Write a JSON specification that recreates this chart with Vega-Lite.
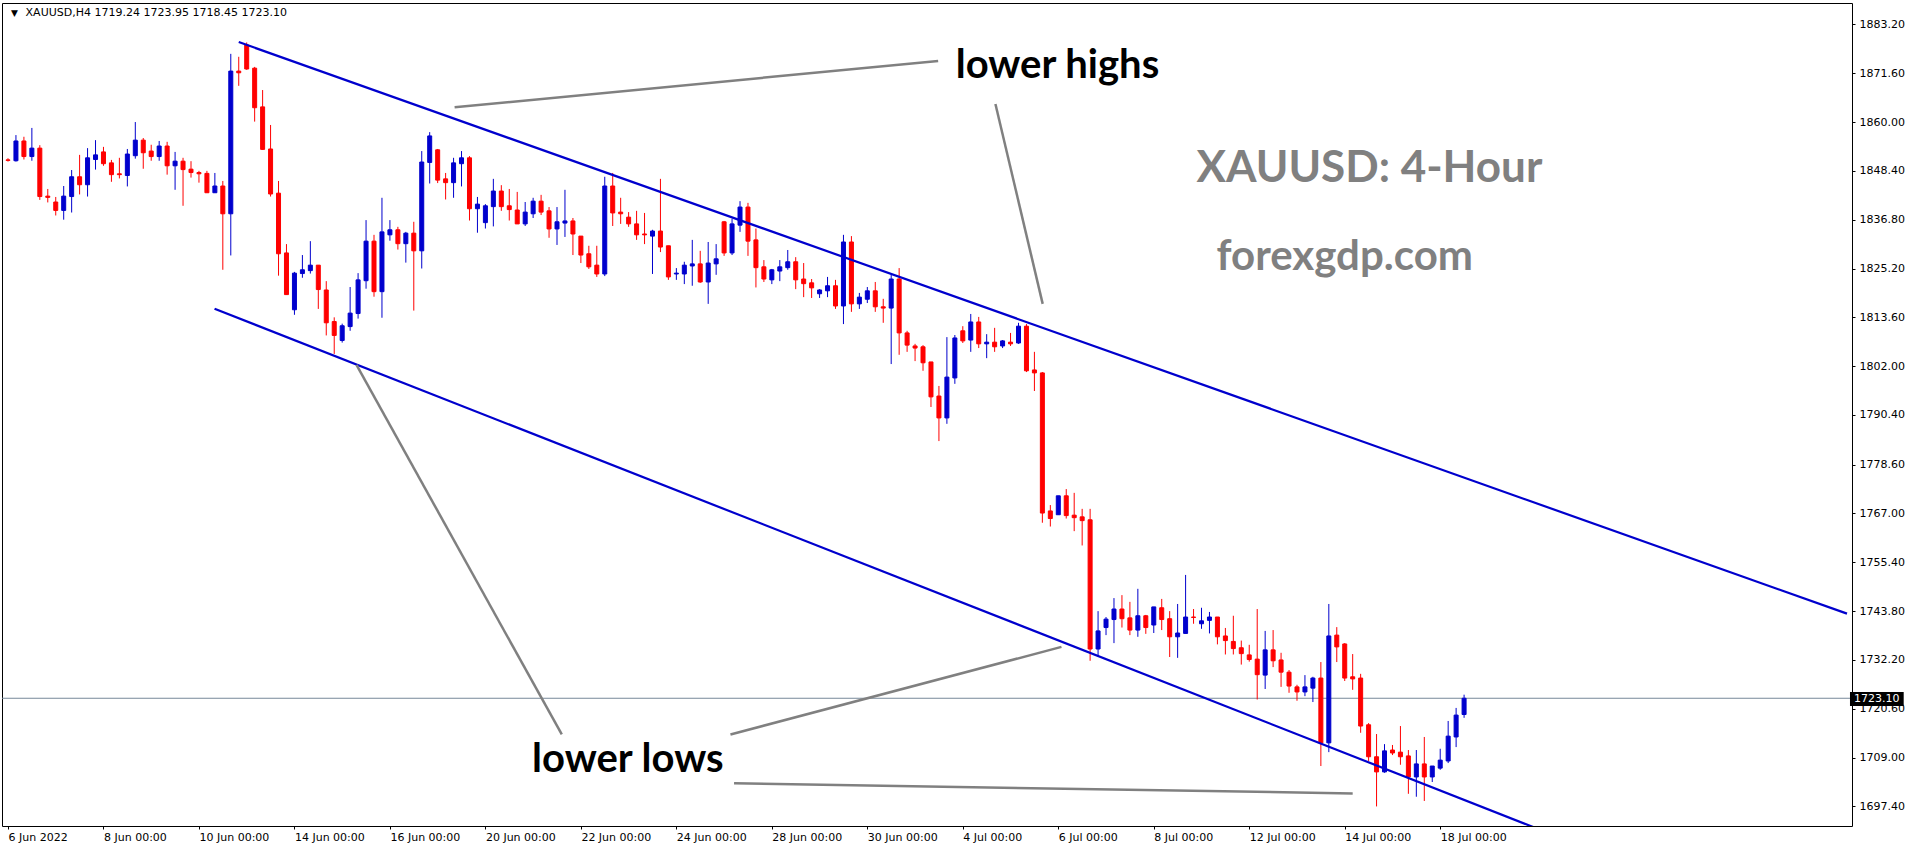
{
  "$schema": "https://vega.github.io/schema/vega-lite/v6.json",
  "width": 1850,
  "height": 823,
  "autosize": {"type": "none"},
  "padding": {"left": 2, "top": 3, "right": 64, "bottom": 24},
  "background": "white",
  "config": {
    "view": {"stroke": "black", "strokeWidth": 1},
    "axis": {"grid": false, "domain": false, "tickColor": "black", "tickSize": 3, "labelFont": "DejaVu Sans", "labelFontSize": 11, "labelColor": "black"}
  },
  "datasets": {
    "candles": [
      {"i":0,"o":1851.0,"h":1851.4,"l":1850.6,"c":1850.9},
      {"i":1,"o":1850.8,"h":1856.9,"l":1850.6,"c":1855.5},
      {"i":2,"o":1855.5,"h":1856.5,"l":1851.1,"c":1851.8},
      {"i":3,"o":1851.8,"h":1858.6,"l":1850.8,"c":1853.8},
      {"i":4,"o":1853.8,"h":1854.5,"l":1841.5,"c":1842.3},
      {"i":5,"o":1842.4,"h":1844.1,"l":1840.9,"c":1842.1},
      {"i":6,"o":1841.0,"h":1842.2,"l":1837.8,"c":1839.0},
      {"i":7,"o":1839.0,"h":1844.8,"l":1836.8,"c":1842.4},
      {"i":8,"o":1842.3,"h":1848.6,"l":1838.5,"c":1847.0},
      {"i":9,"o":1847.0,"h":1852.2,"l":1842.8,"c":1845.1},
      {"i":10,"o":1845.1,"h":1853.8,"l":1842.3,"c":1851.5},
      {"i":11,"o":1851.1,"h":1855.7,"l":1848.7,"c":1852.2},
      {"i":12,"o":1852.9,"h":1854.1,"l":1849.6,"c":1850.1},
      {"i":13,"o":1850.3,"h":1851.0,"l":1845.8,"c":1847.5},
      {"i":14,"o":1847.7,"h":1851.5,"l":1846.6,"c":1847.5},
      {"i":15,"o":1847.3,"h":1853.6,"l":1844.7,"c":1852.4},
      {"i":16,"o":1852.0,"h":1860.0,"l":1851.3,"c":1855.7},
      {"i":17,"o":1855.7,"h":1856.2,"l":1848.9,"c":1852.7},
      {"i":18,"o":1853.1,"h":1854.6,"l":1850.8,"c":1851.8},
      {"i":19,"o":1851.8,"h":1855.5,"l":1850.8,"c":1854.3},
      {"i":20,"o":1854.3,"h":1855.3,"l":1847.5,"c":1849.6},
      {"i":21,"o":1849.6,"h":1852.9,"l":1843.9,"c":1850.7},
      {"i":22,"o":1850.7,"h":1851.5,"l":1840.1,"c":1848.7},
      {"i":23,"o":1848.8,"h":1850.7,"l":1846.8,"c":1848.0},
      {"i":24,"o":1848.0,"h":1848.4,"l":1845.6,"c":1847.7},
      {"i":25,"o":1847.8,"h":1848.4,"l":1843.2,"c":1843.2},
      {"i":26,"o":1843.2,"h":1847.9,"l":1843.2,"c":1844.8},
      {"i":27,"o":1844.8,"h":1846.0,"l":1824.9,"c":1838.2},
      {"i":28,"o":1838.2,"h":1876.2,"l":1828.3,"c":1872.1},
      {"i":29,"o":1872.1,"h":1875.5,"l":1868.6,"c":1871.7},
      {"i":30,"o":1878.3,"h":1878.9,"l":1872.4,"c":1872.6},
      {"i":31,"o":1872.8,"h":1873.1,"l":1860.1,"c":1863.4},
      {"i":32,"o":1863.6,"h":1867.6,"l":1853.4,"c":1853.5},
      {"i":33,"o":1853.6,"h":1859.3,"l":1842.3,"c":1842.9},
      {"i":34,"o":1843.1,"h":1846.0,"l":1823.5,"c":1828.7},
      {"i":35,"o":1828.9,"h":1831.0,"l":1819.0,"c":1819.0},
      {"i":36,"o":1815.4,"h":1824.4,"l":1814.2,"c":1824.1},
      {"i":37,"o":1824.0,"h":1828.4,"l":1823.0,"c":1824.9},
      {"i":38,"o":1824.7,"h":1831.7,"l":1824.0,"c":1826.0},
      {"i":39,"o":1826.0,"h":1826.0,"l":1815.6,"c":1820.2},
      {"i":40,"o":1820.1,"h":1822.2,"l":1809.3,"c":1812.3},
      {"i":41,"o":1812.6,"h":1813.6,"l":1804.9,"c":1809.3},
      {"i":42,"o":1808.1,"h":1812.1,"l":1807.6,"c":1811.6},
      {"i":43,"o":1811.4,"h":1820.8,"l":1810.4,"c":1814.6},
      {"i":44,"o":1814.5,"h":1824.1,"l":1813.3,"c":1822.5},
      {"i":45,"o":1822.3,"h":1836.7,"l":1820.4,"c":1831.7},
      {"i":46,"o":1831.7,"h":1833.2,"l":1818.5,"c":1819.7},
      {"i":47,"o":1819.7,"h":1842.0,"l":1813.5,"c":1833.9},
      {"i":48,"o":1833.2,"h":1836.7,"l":1831.8,"c":1834.4},
      {"i":49,"o":1834.4,"h":1835.1,"l":1829.7,"c":1831.1},
      {"i":50,"o":1831.1,"h":1833.9,"l":1826.6,"c":1833.6},
      {"i":51,"o":1833.6,"h":1836.3,"l":1815.2,"c":1829.4},
      {"i":52,"o":1829.4,"h":1853.1,"l":1825.2,"c":1850.5},
      {"i":53,"o":1850.4,"h":1857.6,"l":1845.4,"c":1856.7},
      {"i":54,"o":1853.4,"h":1853.6,"l":1845.5,"c":1846.2},
      {"i":55,"o":1846.5,"h":1847.9,"l":1841.6,"c":1845.6},
      {"i":56,"o":1845.6,"h":1851.5,"l":1842.0,"c":1850.3},
      {"i":57,"o":1850.1,"h":1853.1,"l":1844.7,"c":1851.5},
      {"i":58,"o":1851.5,"h":1851.9,"l":1836.6,"c":1839.4},
      {"i":59,"o":1839.4,"h":1842.2,"l":1833.7,"c":1840.5},
      {"i":60,"o":1836.1,"h":1840.5,"l":1834.7,"c":1840.1},
      {"i":61,"o":1839.9,"h":1846.5,"l":1835.2,"c":1843.6},
      {"i":62,"o":1843.6,"h":1845.0,"l":1838.9,"c":1839.9},
      {"i":63,"o":1840.1,"h":1844.1,"l":1836.6,"c":1839.2},
      {"i":64,"o":1839.1,"h":1843.4,"l":1835.8,"c":1835.8},
      {"i":65,"o":1835.8,"h":1841.0,"l":1835.3,"c":1838.6},
      {"i":66,"o":1838.2,"h":1842.0,"l":1837.2,"c":1841.2},
      {"i":67,"o":1841.2,"h":1842.7,"l":1837.9,"c":1838.6},
      {"i":68,"o":1838.9,"h":1839.8,"l":1832.5,"c":1834.6},
      {"i":69,"o":1834.6,"h":1839.8,"l":1830.8,"c":1836.3},
      {"i":70,"o":1836.0,"h":1843.9,"l":1832.7,"c":1836.5},
      {"i":71,"o":1836.5,"h":1837.2,"l":1828.4,"c":1833.4},
      {"i":72,"o":1832.9,"h":1832.9,"l":1826.5,"c":1828.4},
      {"i":73,"o":1828.7,"h":1830.6,"l":1825.1,"c":1825.6},
      {"i":74,"o":1826.0,"h":1830.6,"l":1823.2,"c":1823.9},
      {"i":75,"o":1823.9,"h":1847.0,"l":1823.4,"c":1844.8},
      {"i":76,"o":1844.8,"h":1847.9,"l":1835.3,"c":1838.4},
      {"i":77,"o":1838.6,"h":1842.0,"l":1835.8,"c":1838.2},
      {"i":78,"o":1837.4,"h":1838.6,"l":1835.1,"c":1835.8},
      {"i":79,"o":1835.8,"h":1838.9,"l":1832.0,"c":1833.2},
      {"i":80,"o":1833.4,"h":1838.4,"l":1831.0,"c":1833.2},
      {"i":81,"o":1832.9,"h":1834.4,"l":1823.9,"c":1834.1},
      {"i":82,"o":1834.1,"h":1846.5,"l":1829.1,"c":1830.3},
      {"i":83,"o":1830.6,"h":1830.6,"l":1822.5,"c":1823.2},
      {"i":84,"o":1823.9,"h":1825.3,"l":1822.5,"c":1824.1},
      {"i":85,"o":1823.9,"h":1826.8,"l":1821.5,"c":1826.0},
      {"i":86,"o":1825.8,"h":1832.0,"l":1821.1,"c":1826.3},
      {"i":87,"o":1826.3,"h":1829.4,"l":1821.8,"c":1822.0},
      {"i":88,"o":1822.0,"h":1831.5,"l":1816.8,"c":1826.5},
      {"i":89,"o":1826.3,"h":1831.0,"l":1823.7,"c":1827.5},
      {"i":90,"o":1836.3,"h":1836.5,"l":1828.2,"c":1828.9},
      {"i":91,"o":1828.9,"h":1837.0,"l":1828.4,"c":1835.8},
      {"i":92,"o":1835.5,"h":1841.2,"l":1833.9,"c":1839.8},
      {"i":93,"o":1839.8,"h":1840.8,"l":1828.2,"c":1831.7},
      {"i":94,"o":1832.0,"h":1834.7,"l":1820.7,"c":1825.4},
      {"i":95,"o":1825.6,"h":1827.2,"l":1822.0,"c":1822.7},
      {"i":96,"o":1822.5,"h":1825.1,"l":1821.5,"c":1824.9},
      {"i":97,"o":1824.6,"h":1827.2,"l":1822.2,"c":1825.6},
      {"i":98,"o":1825.4,"h":1829.6,"l":1824.9,"c":1826.8},
      {"i":99,"o":1826.8,"h":1827.9,"l":1820.3,"c":1822.5},
      {"i":100,"o":1822.7,"h":1826.5,"l":1818.4,"c":1821.6},
      {"i":101,"o":1821.8,"h":1822.7,"l":1818.2,"c":1820.6},
      {"i":102,"o":1819.2,"h":1820.3,"l":1818.2,"c":1820.1},
      {"i":103,"o":1819.9,"h":1823.2,"l":1818.4,"c":1821.1},
      {"i":104,"o":1821.1,"h":1822.5,"l":1815.6,"c":1816.3},
      {"i":105,"o":1816.3,"h":1833.2,"l":1812.0,"c":1831.5},
      {"i":106,"o":1831.5,"h":1832.9,"l":1814.9,"c":1816.8},
      {"i":107,"o":1816.8,"h":1819.4,"l":1815.6,"c":1818.4},
      {"i":108,"o":1817.9,"h":1820.8,"l":1817.0,"c":1819.9},
      {"i":109,"o":1819.9,"h":1822.0,"l":1814.9,"c":1816.1},
      {"i":110,"o":1816.1,"h":1818.0,"l":1812.3,"c":1815.8},
      {"i":111,"o":1815.8,"h":1823.7,"l":1802.5,"c":1822.7},
      {"i":112,"o":1822.7,"h":1825.3,"l":1804.7,"c":1809.9},
      {"i":113,"o":1809.9,"h":1810.4,"l":1805.4,"c":1807.0},
      {"i":114,"o":1806.8,"h":1807.3,"l":1803.2,"c":1806.3},
      {"i":115,"o":1806.6,"h":1807.0,"l":1800.9,"c":1802.8},
      {"i":116,"o":1803.0,"h":1803.0,"l":1792.3,"c":1794.7},
      {"i":117,"o":1794.9,"h":1797.3,"l":1784.2,"c":1789.7},
      {"i":118,"o":1789.7,"h":1808.9,"l":1788.3,"c":1799.4},
      {"i":119,"o":1799.2,"h":1809.4,"l":1797.8,"c":1808.7},
      {"i":120,"o":1810.4,"h":1811.5,"l":1807.5,"c":1808.0},
      {"i":121,"o":1808.2,"h":1814.4,"l":1805.4,"c":1812.5},
      {"i":122,"o":1812.5,"h":1813.7,"l":1806.3,"c":1807.3},
      {"i":123,"o":1807.3,"h":1809.6,"l":1803.9,"c":1807.7},
      {"i":124,"o":1807.7,"h":1811.1,"l":1805.4,"c":1806.6},
      {"i":125,"o":1806.8,"h":1808.2,"l":1806.3,"c":1808.0},
      {"i":126,"o":1807.7,"h":1809.9,"l":1806.8,"c":1807.3},
      {"i":127,"o":1807.5,"h":1812.3,"l":1807.3,"c":1811.5},
      {"i":128,"o":1811.5,"h":1812.0,"l":1800.6,"c":1800.9},
      {"i":129,"o":1801.1,"h":1805.4,"l":1796.1,"c":1800.4},
      {"i":130,"o":1800.4,"h":1800.6,"l":1764.8,"c":1767.1},
      {"i":131,"o":1767.6,"h":1769.0,"l":1763.9,"c":1765.8},
      {"i":132,"o":1766.7,"h":1771.2,"l":1766.7,"c":1771.2},
      {"i":133,"o":1771.2,"h":1772.8,"l":1765.8,"c":1766.5},
      {"i":134,"o":1766.6,"h":1771.9,"l":1762.8,"c":1766.0},
      {"i":135,"o":1766.2,"h":1768.1,"l":1759.4,"c":1765.3},
      {"i":136,"o":1765.5,"h":1768.1,"l":1732.0,"c":1734.8},
      {"i":137,"o":1734.8,"h":1743.8,"l":1732.9,"c":1739.1},
      {"i":138,"o":1739.9,"h":1742.4,"l":1738.1,"c":1741.9},
      {"i":139,"o":1741.8,"h":1746.9,"l":1736.2,"c":1744.3},
      {"i":140,"o":1744.3,"h":1747.6,"l":1739.9,"c":1742.0},
      {"i":141,"o":1742.2,"h":1746.0,"l":1738.1,"c":1739.3},
      {"i":142,"o":1739.3,"h":1749.1,"l":1737.7,"c":1742.7},
      {"i":143,"o":1742.7,"h":1742.9,"l":1738.4,"c":1739.9},
      {"i":144,"o":1740.5,"h":1744.8,"l":1738.6,"c":1744.8},
      {"i":145,"o":1744.6,"h":1746.7,"l":1739.3,"c":1741.8},
      {"i":146,"o":1742.0,"h":1743.8,"l":1732.9,"c":1737.7},
      {"i":147,"o":1737.7,"h":1745.5,"l":1732.7,"c":1738.6},
      {"i":148,"o":1738.5,"h":1752.4,"l":1738.5,"c":1742.4},
      {"i":149,"o":1742.4,"h":1744.3,"l":1740.8,"c":1742.3},
      {"i":150,"o":1740.8,"h":1744.6,"l":1739.6,"c":1741.5},
      {"i":151,"o":1741.6,"h":1743.6,"l":1738.5,"c":1742.4},
      {"i":152,"o":1742.4,"h":1742.4,"l":1735.9,"c":1737.7},
      {"i":153,"o":1737.9,"h":1739.8,"l":1733.5,"c":1736.8},
      {"i":154,"o":1736.6,"h":1742.7,"l":1733.5,"c":1734.9},
      {"i":155,"o":1735.1,"h":1736.8,"l":1731.1,"c":1733.7},
      {"i":156,"o":1733.4,"h":1735.8,"l":1731.8,"c":1732.3},
      {"i":157,"o":1732.4,"h":1744.3,"l":1722.8,"c":1728.7},
      {"i":158,"o":1728.6,"h":1739.1,"l":1725.3,"c":1734.6},
      {"i":159,"o":1734.6,"h":1739.3,"l":1730.5,"c":1732.0},
      {"i":160,"o":1732.2,"h":1733.9,"l":1725.8,"c":1729.3},
      {"i":161,"o":1729.3,"h":1729.8,"l":1724.4,"c":1726.0},
      {"i":162,"o":1725.8,"h":1726.3,"l":1722.5,"c":1724.6},
      {"i":163,"o":1724.6,"h":1728.6,"l":1723.6,"c":1725.8},
      {"i":164,"o":1725.5,"h":1728.2,"l":1722.2,"c":1727.9},
      {"i":165,"o":1727.9,"h":1731.7,"l":1707.0,"c":1712.5},
      {"i":166,"o":1712.5,"h":1745.5,"l":1710.3,"c":1737.9},
      {"i":167,"o":1738.1,"h":1740.0,"l":1731.7,"c":1735.3},
      {"i":168,"o":1736.0,"h":1736.2,"l":1727.2,"c":1727.9},
      {"i":169,"o":1728.2,"h":1733.6,"l":1725.1,"c":1727.7},
      {"i":170,"o":1727.9,"h":1728.9,"l":1714.9,"c":1716.5},
      {"i":171,"o":1716.8,"h":1717.2,"l":1708.2,"c":1709.2},
      {"i":172,"o":1709.2,"h":1714.6,"l":1697.4,"c":1705.6},
      {"i":173,"o":1705.6,"h":1712.2,"l":1705.4,"c":1710.6},
      {"i":174,"o":1710.8,"h":1712.0,"l":1709.6,"c":1710.1},
      {"i":175,"o":1710.3,"h":1716.5,"l":1707.3,"c":1709.2},
      {"i":176,"o":1709.4,"h":1710.8,"l":1700.4,"c":1704.4},
      {"i":177,"o":1704.4,"h":1710.8,"l":1699.7,"c":1707.5},
      {"i":178,"o":1707.5,"h":1713.9,"l":1698.7,"c":1704.4},
      {"i":179,"o":1704.4,"h":1707.0,"l":1703.2,"c":1707.0},
      {"i":180,"o":1706.5,"h":1711.1,"l":1706.1,"c":1708.4},
      {"i":181,"o":1708.2,"h":1717.7,"l":1707.7,"c":1714.1},
      {"i":182,"o":1713.9,"h":1720.8,"l":1711.5,"c":1719.1},
      {"i":183,"o":1719.24,"h":1723.95,"l":1718.45,"c":1723.10}
    ],
    "channel": [
      {"i":29.0,"p":1879.0,"i2":231.125,"p2":1743.2},
      {"i":25.96,"p":1815.65,"i2":192.5,"p2":1691.9}
    ],
    "pointers": [
      {"i":56.13,"p":1863.5,"i2":116.9,"p2":1874.5},
      {"i":124.1,"p":1864.3,"i2":130.04,"p2":1816.8},
      {"i":43.8,"p":1802.3,"i2":69.6,"p2":1714.5},
      {"i":90.8,"p":1714.5,"i2":132.4,"p2":1735.3},
      {"i":91.25,"p":1702.9,"i2":169.0,"p2":1700.5}
    ],
    "bid": [{"p":1723.10}],
    "bidbox": [{"i":231.5,"i2":238.25,"p":1724.6,"p2":1721.25,"text":"1723.10","ti":232.0,"tp":1722.95}],
    "blackNotes": [
      {"i":131.9,"p":1873.3,"text":"lower highs"},
      {"i":77.9,"p":1708.4,"text":"lower lows"}
    ],
    "grayTitle": [{"i":171.1,"p":1848.9,"text":"XAUUSD: 4-Hour"}],
    "grayNote": [{"i":168.0,"p":1828.0,"text":"forexgdp.com"}],
    "header": [{"i":2.21,"p":1885.8,"text":"XAUUSD,H4  1719.24 1723.95 1718.45 1723.10"}],
    "marker": [{"i":0.81,"p":1885.8,"text":"▼"}]
  },
  "encoding": {
    "x": {"field": "i", "type": "quantitative", "title": null,
      "scale": {"domain": [-0.125, 231.125], "nice": false, "zero": false},
      "axis": {"orient": "bottom", "values": [0, 12, 24, 36, 48, 60, 72, 84, 96, 108, 120, 132, 144, 156, 168, 180],
        "labelExpr": "['6 Jun 2022','8 Jun 00:00','10 Jun 00:00','14 Jun 00:00','16 Jun 00:00','20 Jun 00:00','22 Jun 00:00','24 Jun 00:00','28 Jun 00:00','30 Jun 00:00','4 Jul 00:00','6 Jul 00:00','8 Jul 00:00','12 Jul 00:00','14 Jul 00:00','18 Jul 00:00'][round(datum.value / 12)]",
        "labelAlign": "left", "labelBaseline": "top", "labelPadding": 2, "labelFlush": false, "labelOverlap": false, "labelBound": false}},
    "y": {"field": "p", "type": "quantitative", "title": null,
      "scale": {"domain": [1692.75, 1888.28], "nice": false, "zero": false},
      "axis": {"orient": "right", "values": [1697.4, 1709.0, 1720.6, 1732.2, 1743.8, 1755.4, 1767.0, 1778.6, 1790.4, 1802.0, 1813.6, 1825.2, 1836.8, 1848.4, 1860.0, 1871.6, 1883.2], "labelExpr": "format(datum.value, '.2f')", "labelPadding": 4, "labelBaseline": "middle", "labelOverlap": false}}
  },
  "layer": [
    {
      "data": {"name": "bid"},
      "mark": {"type": "rule", "color": "#778899", "strokeWidth": 1},
      "encoding": {"x": null}
    },
    {
      "data": {"name": "candles"},
      "mark": {"type": "rule", "strokeWidth": 1},
      "encoding": {
        "y": {"field": "l", "type": "quantitative", "title": null},
        "y2": {"field": "h"},
        "color": {"condition": {"test": "datum.c >= datum.o", "value": "#0000CD"}, "value": "#FF0000"}
      }
    },
    {
      "data": {"name": "candles"},
      "mark": {"type": "bar", "width": 4, "strokeWidth": 1},
      "encoding": {
        "y": {"field": "o", "type": "quantitative", "title": null},
        "y2": {"field": "c"},
        "color": {"condition": {"test": "datum.c >= datum.o", "value": "#0000CD"}, "value": "#FF0000"},
        "stroke": {"condition": {"test": "datum.c >= datum.o", "value": "#0000CD"}, "value": "#FF0000"}
      }
    },
    {
      "data": {"name": "channel"},
      "mark": {"type": "rule", "color": "#0000CD", "strokeWidth": 2.2, "clip": true},
      "encoding": {"x2": {"field": "i2"}, "y2": {"field": "p2"}}
    },
    {
      "data": {"name": "pointers"},
      "mark": {"type": "rule", "color": "#808080", "strokeWidth": 2.5, "clip": true},
      "encoding": {"x2": {"field": "i2"}, "y2": {"field": "p2"}}
    },
    {
      "data": {"name": "bidbox"},
      "mark": {"type": "rect", "color": "black", "clip": false},
      "encoding": {"x2": {"field": "i2"}, "y2": {"field": "p2"}}
    },
    {
      "data": {"name": "bidbox"},
      "mark": {"type": "text", "color": "white", "font": "DejaVu Sans", "fontSize": 11, "align": "left", "baseline": "middle"},
      "encoding": {
        "x": {"field": "ti", "type": "quantitative", "title": null},
        "y": {"field": "tp", "type": "quantitative", "title": null},
        "text": {"field": "text"}
      }
    },
    {
      "data": {"name": "blackNotes"},
      "mark": {"type": "text", "color": "black", "font": "Lato", "fontWeight": "bold", "fontSize": 40, "align": "center", "baseline": "middle"},
      "encoding": {"text": {"field": "text"}}
    },
    {
      "data": {"name": "grayTitle"},
      "mark": {"type": "text", "color": "#808080", "font": "Lato", "fontWeight": "bold", "fontSize": 44, "align": "center", "baseline": "middle"},
      "encoding": {"text": {"field": "text"}}
    },
    {
      "data": {"name": "grayNote"},
      "mark": {"type": "text", "color": "#808080", "font": "Lato", "fontWeight": "bold", "fontSize": 42, "align": "center", "baseline": "middle"},
      "encoding": {"text": {"field": "text"}}
    },
    {
      "data": {"name": "header"},
      "mark": {"type": "text", "color": "black", "font": "DejaVu Sans", "fontSize": 11, "align": "left", "baseline": "middle"},
      "encoding": {"text": {"field": "text"}}
    },
    {
      "data": {"name": "marker"},
      "mark": {"type": "text", "color": "black", "font": "DejaVu Sans", "fontSize": 9, "align": "center", "baseline": "middle"},
      "encoding": {"text": {"field": "text"}}
    }
  ]
}
